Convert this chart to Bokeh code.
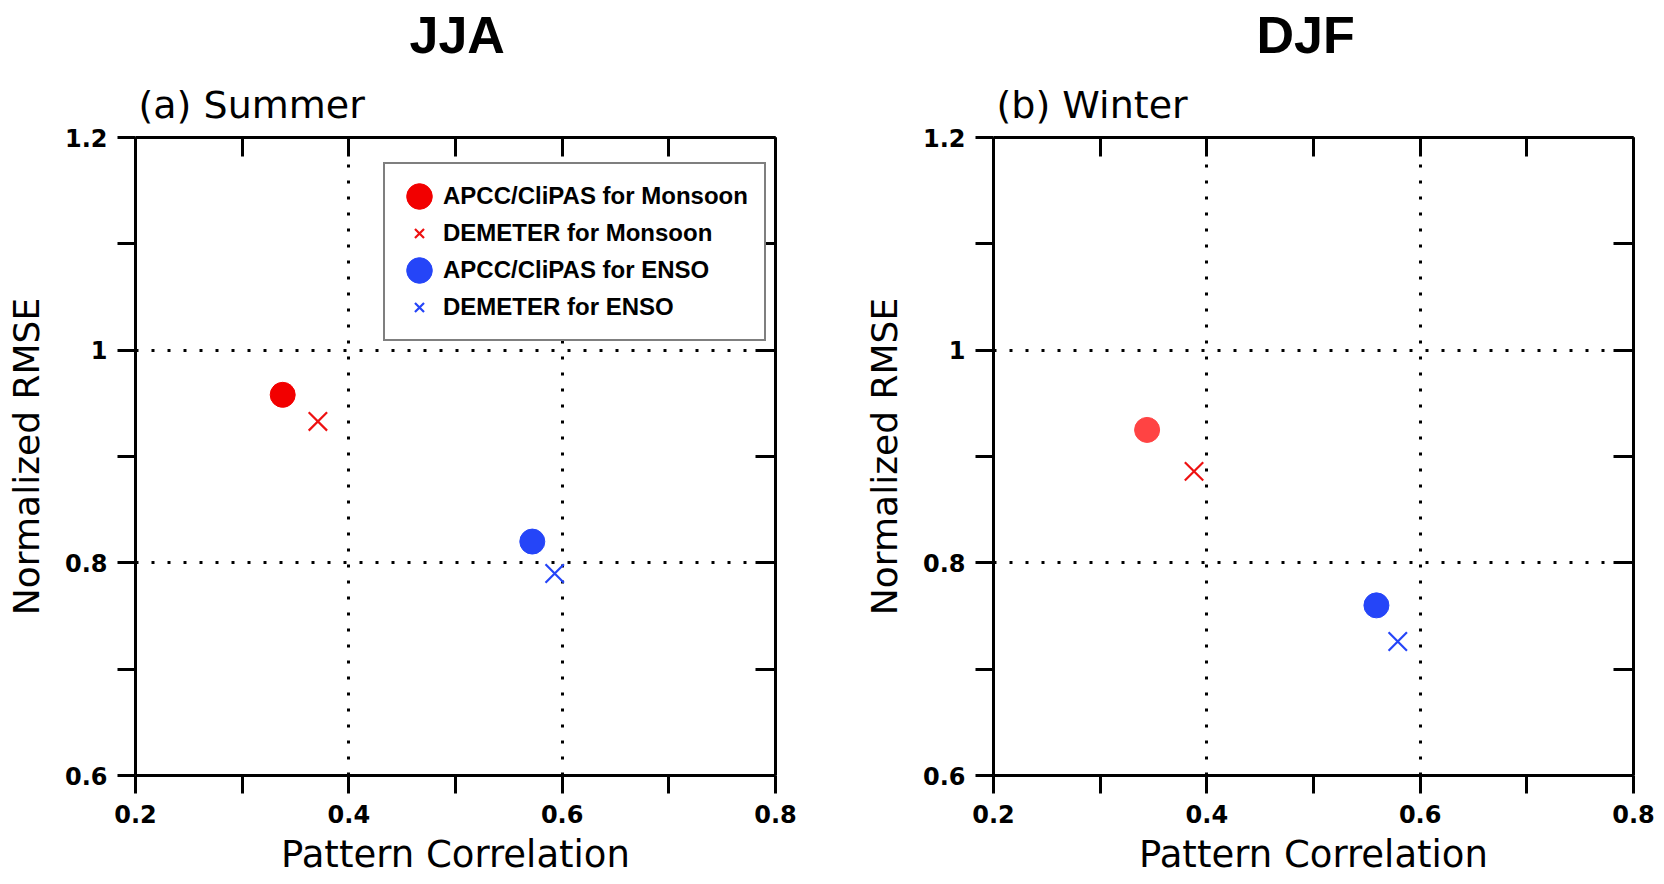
from bokeh.plotting import figure
from bokeh.layouts import row
from bokeh.models import (LinearAxis, FixedTicker, Legend, LegendItem, Title, Range1d,
                          CustomJSTickFormatter)
from bokeh.embed import file_html
from bokeh.resources import INLINE

# ---------------- data ----------------
seasons = ["JJA", "DJF"]
panel_titles = ["(a) Summer", "(b) Winter"]
series = ["APCC/CliPAS for Monsoon", "DEMETER for Monsoon",
          "APCC/CliPAS for ENSO", "DEMETER for ENSO"]
jja_corr = [0.338, 0.371, 0.572, 0.593]
jja_rmse = [0.958, 0.933, 0.820, 0.790]
djf_corr = [0.344, 0.388, 0.559, 0.579]
djf_rmse = [0.925, 0.886, 0.760, 0.726]

x_major = [0.2, 0.4, 0.6, 0.8]
x_minor = [0.3, 0.5, 0.7]
y_major = [0.6, 0.8, 1.0, 1.2]
y_minor = [0.7, 0.9, 1.1]
grid_x = [0.4, 0.6]
grid_y = [0.8, 1.0]

# ---------------- styles ----------------
markers = ["circle", "x", "circle", "x"]
colors_a = ["#f20000", "#ee1111", "#2545f8", "#2545f8"]
colors_b = ["#ff4343", "#ee1111", "#2545f8", "#2545f8"]


def style_axis(ax, tick_in, tick_out):
    ax.axis_line_width = 3
    ax.axis_line_color = "black"
    ax.major_tick_line_width = 3
    ax.minor_tick_line_width = 3
    ax.major_tick_in = tick_in
    ax.major_tick_out = tick_out
    ax.minor_tick_in = tick_in
    ax.minor_tick_out = tick_out
    ax.major_label_text_font = "DejaVu Sans"
    ax.major_label_text_font_style = "bold"
    ax.major_label_text_font_size = "24px"
    ax.major_label_text_color = "black"
    ax.axis_label_text_font = "DejaVu Sans"
    ax.axis_label_text_font_style = "normal"
    ax.axis_label_text_color = "black"


def make_panel(season, sub, xs, ys, colors, width, mb_left, mb_right, legend, t_off):
    p = figure(width=width, height=882, title=None,
               x_range=Range1d(0.2, 0.8), y_range=Range1d(0.6, 1.2),
               toolbar_location=None, output_backend="svg",
               min_border_left=mb_left, min_border_right=mb_right,
               min_border_top=137, min_border_bottom=107,
               background_fill_color="white", border_fill_color="white",
               outline_line_color=None)

    xt = FixedTicker(ticks=x_major, minor_ticks=x_minor)
    yt = FixedTicker(ticks=y_major, minor_ticks=y_minor)

    xa = p.xaxis[0]
    xa.ticker = xt
    xa.formatter = CustomJSTickFormatter(code="return tick.toFixed(1);")
    style_axis(xa, 0, 18)
    xa.major_label_standoff = 11
    xa.axis_label = "Pattern Correlation"
    xa.axis_label_text_font_size = "37px"
    xa.axis_label_standoff = 7

    ya = p.yaxis[0]
    ya.ticker = yt
    ya.formatter = CustomJSTickFormatter(
        code="return Math.abs(tick - 1) < 1e-9 ? '1' : tick.toFixed(1);")
    style_axis(ya, 0, 18)
    ya.major_label_standoff = 10
    ya.axis_label = "Normalized RMSE"
    ya.axis_label_text_font_size = "36px"
    ya.axis_label_standoff = 15

    ra = LinearAxis(ticker=yt, formatter=CustomJSTickFormatter(code="return '';"))
    style_axis(ra, 20, 0)
    ra.major_label_standoff = 0
    ra.major_label_text_font_size = "1px"
    p.add_layout(ra, "right")

    ta = LinearAxis(ticker=xt, formatter=CustomJSTickFormatter(code="return '';"))
    style_axis(ta, 19, 0)
    ta.major_label_standoff = 0
    ta.major_label_text_font_size = "1px"
    p.add_layout(ta, "above")

    p.add_layout(Title(text=sub, align="left", offset=3, text_font="DejaVu Sans",
                       text_font_size="38px", text_font_style="normal",
                       text_color="black", standoff=21), "above")
    p.add_layout(Title(text=season, align="left", offset=t_off,
                       text_font="Liberation Sans",
                       text_font_size="52px", text_font_style="bold",
                       text_color="black", standoff=9, vertical_align="top"), "above")

    p.xgrid.ticker = FixedTicker(ticks=grid_x)
    p.ygrid.ticker = FixedTicker(ticks=grid_y)
    for g in (p.xgrid[0], p.ygrid[0]):
        g.grid_line_color = "black"
        g.grid_line_width = 3
        g.grid_line_dash = "3 13"
        g.grid_line_alpha = 1.0

    renderers = []
    for i in range(len(series)):
        if markers[i] == "circle":
            r = p.ellipse(x=[xs[i]], y=[ys[i]], width=25, height=25,
                          width_units="screen", height_units="screen",
                          fill_color=colors[i], line_color=colors[i], line_width=1)
        else:
            r = p.scatter(x=[xs[i]], y=[ys[i]], marker="x", size=26,
                          line_color=colors[i], line_width=2.2)
        renderers.append(r)

    if legend:
        items = [LegendItem(label=series[i], renderers=[renderers[i]])
                 for i in range(len(series))]
        lg = Legend(items=items, location=(248, 434), orientation="vertical",
                    margin=0, padding=16, spacing=5,
                    glyph_width=36, glyph_height=32, label_height=20,
                    label_standoff=6,
                    border_line_color="black", border_line_width=2,
                    background_fill_color="white", background_fill_alpha=1.0,
                    label_text_font="Liberation Sans", label_text_font_style="bold",
                    label_text_font_size="24px", label_text_color="black")
        p.add_layout(lg)
    return p


p1 = make_panel(seasons[0], panel_titles[0], jja_corr, jja_rmse, colors_a,
                820, 135, 45, True, 274)
p2 = make_panel(seasons[1], panel_titles[1], djf_corr, djf_rmse, colors_b,
                842, 173, 29, False, 263)

layout = row(p1, p2)
open("out.html", "w").write(file_html(layout, INLINE))
